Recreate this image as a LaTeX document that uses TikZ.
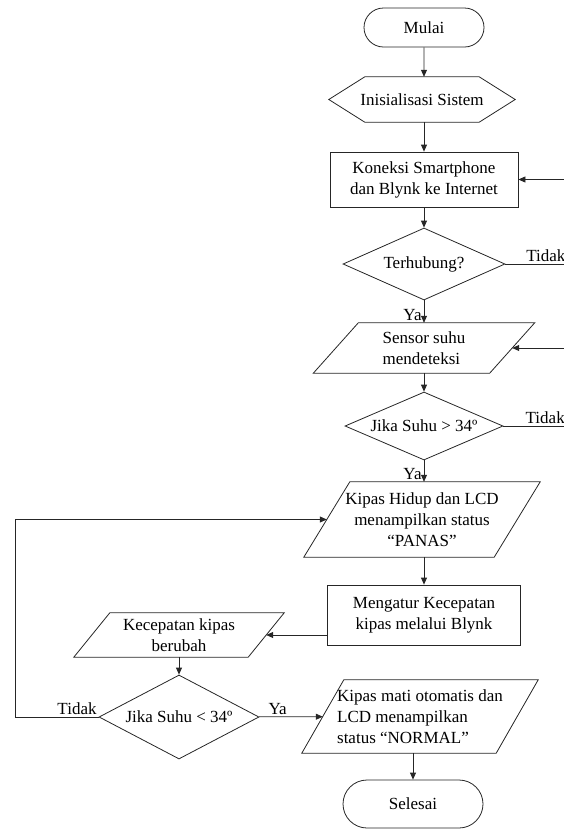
\documentclass[tikz,border=0pt]{standalone}
\usepackage{fontspec}
\setmainfont{Liberation Serif}
\usetikzlibrary{arrows.meta,shapes.geometric,shapes.misc}
\definecolor{lineCol}{HTML}{262626}

\begin{document}
\begin{tikzpicture}[x=1pt,y=-1pt,every node/.style={font=\fontsize{17}{21}\selectfont}]
  \tikzset{ln/.style={draw=lineCol,line width=0.8pt},
    arr/.style={ln,-{Triangle[length=7pt,width=6pt]}},
    lbl/.style={inner sep=2pt},
    term/.style n args={2}{ln,rounded rectangle,minimum width=#1,minimum height=#2,inner sep=0pt},
    hexa/.style n args={3}{minimum width=#1,minimum height=#2,inner sep=0pt,
        append after command={\pgfextra{\draw[ln,line join=miter] (\tikzlastnode.west)
          -- ([xshift=#3]\tikzlastnode.north west) -- ([xshift=-#3]\tikzlastnode.north east)
          -- (\tikzlastnode.east) -- ([xshift=-#3]\tikzlastnode.south east)
          -- ([xshift=#3]\tikzlastnode.south west) -- cycle;}}},
    proc/.style n args={2}{ln,rectangle,minimum width=#1,minimum height=#2,align=center},
    dec/.style n args={2}{ln,diamond,aspect=2.3,inner sep=0pt,minimum width=#1,minimum height=#2},
    io/.style n args={3}{minimum width=#1,minimum height=#2,inner sep=0pt,align=center,
        append after command={\pgfextra{\draw[ln,line join=miter] ([xshift=-#3/2]\tikzlastnode.south west)
          -- ([xshift=#3/2]\tikzlastnode.north west) -- ([xshift=#3/2]\tikzlastnode.north east)
          -- ([xshift=-#3/2]\tikzlastnode.south east) -- cycle;}}}}
  \useasboundingbox (0,0) rectangle (564,836);
  \node[term={120pt}{39pt}] (mulai) at (424,27.5) {Mulai};
  \node[hexa={186pt}{45pt}{36pt}] (init) at (422,99.5) {Inisialisasi Sistem};
  \node[proc={188pt}{55pt}] (koneksi) at (424,179.5) {Koneksi Smartphone\\dan Blynk ke Internet};
  \node[dec={162pt}{72pt}] (hub) at (424,264) {Terhubung?};
  \node[io={176pt}{50pt}{45},align=left] (sensor) at (424,348) {Sensor suhu\\mendeteksi};
  \node[dec={158pt}{68pt}] (suhuA) at (424,426) {Jika Suhu > 34º};
  \node[io={190pt}{75pt}{46}] (hidup) at (422,519.5) {Kipas Hidup dan LCD\\menampilkan status\\“PANAS”};
  \node[proc={193pt}{60pt}] (atur) at (424,615) {Mengatur Kecepatan\\kipas melalui Blynk};
  \node[io={174pt}{44pt}{36}] (ubah) at (179,635) {Kecepatan kipas\\berubah};
  \node[dec={160pt}{84pt}] (suhuB) at (179,717) {Jika Suhu < 34º};
  \node[io={194pt}{73pt}{42},align=left] (mati) at (420,716.5) {Kipas mati otomatis dan\\LCD menampilkan\\status “NORMAL”};
  \node[term={140pt}{48pt}] (selesai) at (413,804) {Selesai};
  \coordinate (inA) at (564,179.5);
  \coordinate (outA) at (564,264);
  \coordinate (inB) at (564,348);
  \coordinate (outB) at (564,426);
  \draw[arr] (mulai) -- (mulai |- init.north);
  \draw[arr] (koneksi |- init.south) -- (koneksi);
  \draw[arr] (koneksi) -- (hub);
  \draw[arr] (hub) -- node[lbl,pos=1,above left]{Ya} (sensor);
  \draw[arr] (sensor) -- (suhuA);
  \draw[arr] (suhuA) -- node[lbl,pos=1,above left]{Ya} (suhuA |- hidup.north);
  \draw[arr] (atur |- hidup.south) -- (atur);
  \draw[arr] (atur.west |- ubah.east) -- (ubah.east);
  \draw[arr] (ubah) -- (suhuB);
  \draw[arr] (suhuB) -- node[lbl,pos=0.29,above]{Ya} (mati);
  \draw[arr] (suhuB.west) -- node[lbl,pos=0.26,above]{Tidak} ++(-83,0) |- (hidup.west);
  \draw[arr] (mati.south -| selesai.north) -- (selesai.north);
  \draw[ln] (hub) -- node[lbl,pos=0.69,above]{Tidak} (outA);
  \draw[arr] (inA) -- (koneksi);
  \draw[arr] (inB) -- (sensor);
  \draw[ln] (suhuA) -- node[lbl,pos=0.69,above]{Tidak} (outB);
\end{tikzpicture}
\end{document}
